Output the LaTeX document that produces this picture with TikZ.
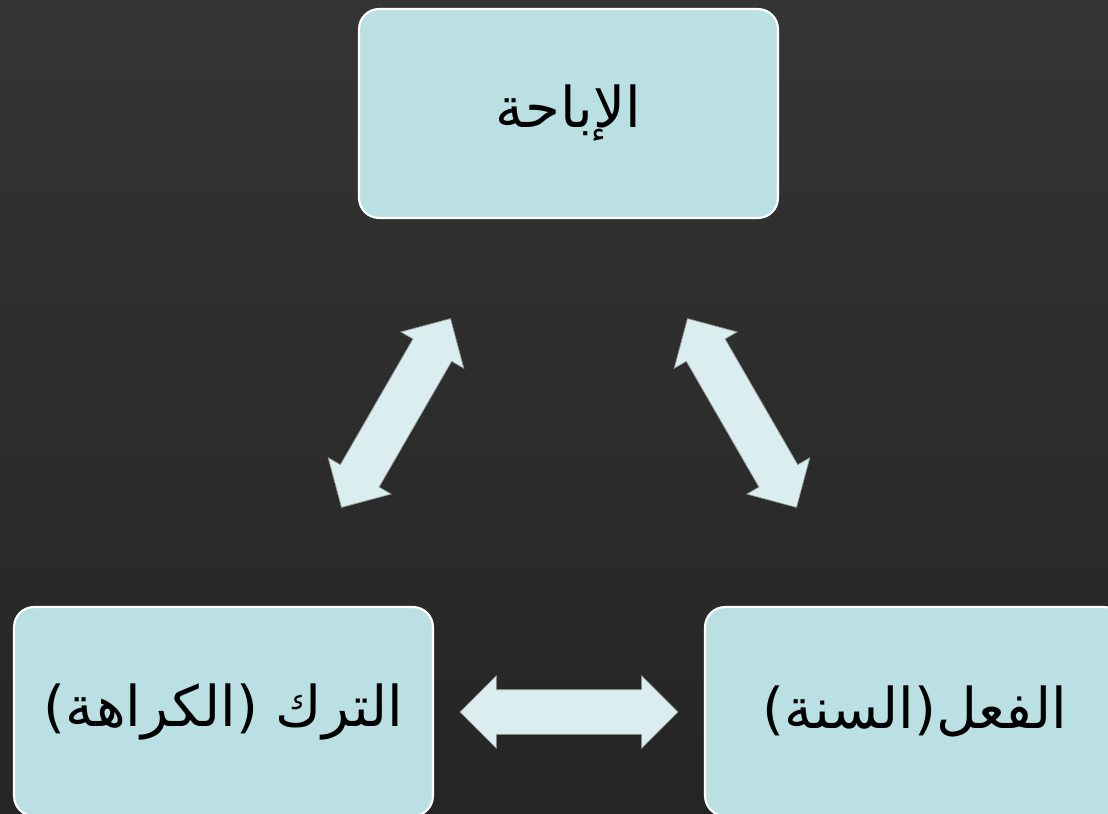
\documentclass[tikz,border=0pt]{standalone}
\usepackage{fontspec}
\newfontfamily\arabicfont[Script=Arabic]{DejaVu Sans}
\TeXXeTstate=1
\usetikzlibrary{shapes.arrows}
\definecolor{boxfill}{HTML}{BBE0E3}
\definecolor{arrowfill}{HTML}{DAEEF0}
\definecolor{bgtop}{HTML}{343434}
\definecolor{bgbot}{HTML}{252525}

\begin{document}
\begin{tikzpicture}[x=0.02cm, y=-0.02cm,
  box/.style={draw=white, line width=1.2pt, fill=boxfill, rounded corners=0.4cm,
    minimum width=8.38cm, minimum height=4.18cm, text=black,
    font=\fontsize{32}{38}\selectfont\arabicfont},
  twoway/.style={double arrow, draw=gray!80, line width=0.4pt, fill=arrowfill,
    inner xsep=0pt, inner ysep=0.44cm, minimum height=4.36cm,
    double arrow head extend=0.28cm}]
  %tikz  background
  \useasboundingbox (0,0) rectangle (1108,814);
  \clip (0,0) rectangle (1108,814);
  \shade[top color=bgtop, bottom color=bgbot] (0,0) rectangle (1108,814);

  %tikz  three boxes
  \node[box] (ibaha) at (568.5,113.5) {\beginR الإباحة\endR};
  \node[box] (tark) at (223.5,711.5) {\beginR الترك (الكراهة)\endR};
  \node[box] (fil) at (914.5,711.5) {\beginR الفعل(السنة)\endR};

  %tikz  two-way arrows between them
  \node[twoway] (tarkfil) at (569,712) {};
  \node[twoway, rotate=60] (tarkibaha) at (396,413) {};
  \node[twoway, rotate=-60] (filibaha) at (742,413) {};
\end{tikzpicture}
\end{document}
